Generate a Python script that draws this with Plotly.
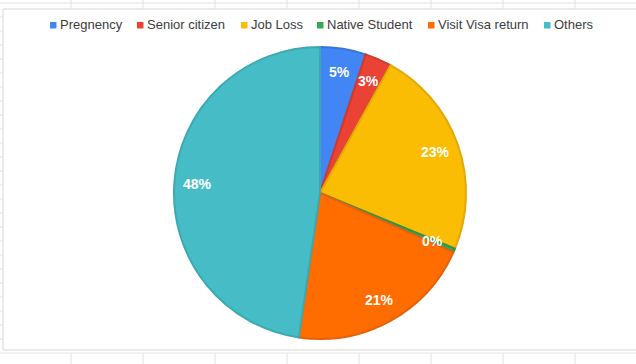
import math
import plotly.graph_objects as go

categories = ["Pregnency", "Senior citizen", "Job Loss", "Native Student", "Visit Visa return", "Others"]
counts = [12, 7, 55, 1, 49, 113]
colors = ["#4285F4", "#EA4335", "#FBBC04", "#34A853", "#FF6D01", "#46BDC6"]
edge_colors = ["#3a74d6", "#cf3a2e", "#e3a904", "#2e9549", "#e5620a", "#3ea8b0"]

W, H = 636, 364
CX, CY, R = 320, 193, 146  # pie centre / radius in pixels (layout)

def px(x):
    return x / W
def py(y):
    return 1 - y / H

fig = go.Figure()
fig.add_trace(go.Pie(
    labels=categories,
    values=counts,
    marker=dict(colors=colors, line=dict(color=edge_colors, width=2)),
    sort=False,
    direction="clockwise",
    rotation=0,
    textinfo="none",
    domain=dict(x=[px(CX - R), px(CX + R)], y=[py(CY + R), py(CY - R)]),
    showlegend=False,
    hoverinfo="label+percent",
))

shapes = []
annotations = []
grid = "#e2e2e2"
# chart box
shapes.append(dict(type="rect", xref="paper", yref="paper", x0=px(3), x1=px(640), y0=py(350), y1=py(9),
                   line=dict(color="#d6d6d6", width=1), fillcolor="white", layer="below"))
# row lines
shapes.append(dict(type="line", xref="paper", yref="paper", x0=0, x1=1, y0=py(3), y1=py(3),
                   line=dict(color=grid, width=1), layer="below"))
shapes.append(dict(type="line", xref="paper", yref="paper", x0=0, x1=1, y0=py(353), y1=py(353),
                   line=dict(color=grid, width=1), layer="below"))
for k in range(1, 25):
    y = 3 + 14 * k
    shapes.append(dict(type="line", xref="paper", yref="paper", x0=0, x1=px(3), y0=py(y), y1=py(y),
                       line=dict(color=grid, width=1), layer="below"))
# column lines
for k in range(8):
    x = 71 + 72 * k
    shapes.append(dict(type="line", xref="paper", yref="paper", x0=px(x), x1=px(x), y0=py(0), y1=py(9),
                       line=dict(color=grid, width=1), layer="below"))
    shapes.append(dict(type="line", xref="paper", yref="paper", x0=px(x), x1=px(x), y0=py(353), y1=py(364),
                       line=dict(color=grid, width=1), layer="below"))

# slice percentage labels, placed from the data (mid-angle of each slice)
total = sum(counts)
cum = 0
for v in counts:
    frac = v / total
    theta = 2 * math.pi * (cum + frac / 2)
    cum += frac
    rr = 0.84 * R
    annotations.append(dict(text="%d%%" % round(frac * 100), xref="paper", yref="paper",
                            x=px(CX + rr * math.sin(theta)), y=py(CY - rr * math.cos(theta)),
                            xanchor="center", yanchor="middle", showarrow=False,
                            font=dict(family="Liberation Sans, Arial", size=14, color="white", weight="bold")))

# legend (manual, Google-Sheets style)
legend_x = [50, 137, 241, 317, 428, 544]
legend_y = 25
for name, col, lx in zip(categories, colors, legend_x):
    shapes.append(dict(type="rect", xref="paper", yref="paper", x0=px(lx), x1=px(lx + 6.5),
                       y0=py(legend_y + 3.5), y1=py(legend_y - 3), line=dict(width=0), fillcolor=col))
    annotations.append(dict(text=name, xref="paper", yref="paper", x=px(lx + 8), y=py(legend_y),
                            xanchor="left", yanchor="middle", showarrow=False,
                            font=dict(family="Liberation Sans, Arial", size=13, color="#3c3c3c")))

fig.update_layout(
    width=W, height=H,
    margin=dict(l=0, r=0, t=0, b=0),
    paper_bgcolor="white",
    plot_bgcolor="white",
    shapes=shapes,
    annotations=annotations,
    showlegend=False,
)

fig.write_html("out.html", config={"displayModeBar": False},
               post_script="document.body.style.margin='0';document.body.style.overflow='hidden';")
